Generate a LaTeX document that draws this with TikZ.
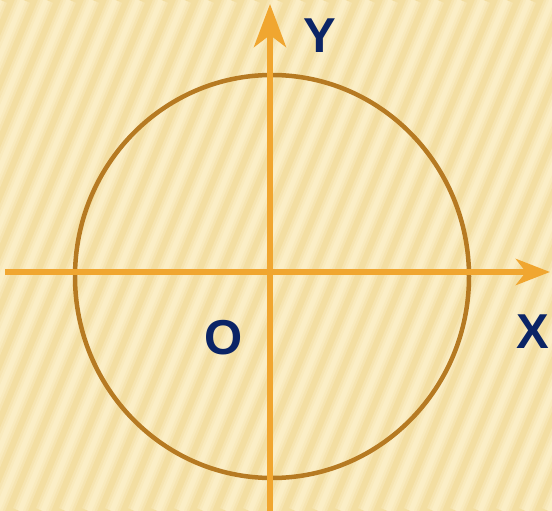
\documentclass[tikz,border=0pt]{standalone}
\usepackage{fontspec}
\setmainfont{Liberation Sans}
\usetikzlibrary{arrows.meta}
\definecolor{bgbase}{HTML}{F3DEA2}
\definecolor{bglight}{HTML}{FDF2CD}
\definecolor{circcol}{HTML}{B67A22}
\definecolor{axcol}{HTML}{F0A630}
\definecolor{labcol}{HTML}{0B2466}
\tikzset{
  axis/.style={draw=axcol, line width=6pt},
  lab/.style={text=labcol, font=\fontsize{49}{49}\selectfont\bfseries, inner sep=0pt},
}
\begin{document}
\begin{tikzpicture}[x=1pt, y=-1pt]
\useasboundingbox (0,0) rectangle (552,511);
\fill[bgbase] (0,0) rectangle (552,511);
\begin{scope}
\clip (0,0) rectangle (552,511);
\foreach \i in {-12,...,36} {
  \draw[bglight, line width=15pt, opacity=0.35] (\i*23-210,511) -- (\i*23,0);
  \draw[bglight, line width=10pt, opacity=0.45] (\i*23-210,511) -- (\i*23,0);
  \draw[bglight, line width=5pt, opacity=0.6] (\i*23-210,511) -- (\i*23,0);
}
\end{scope}
\draw[circcol, line width=4.5pt] (272,276.5) ellipse [x radius=197, y radius=201.5];
\coordinate (xs) at (5,272);
\coordinate (xe) at (550,272);
\coordinate (ys) at (270,511);
\coordinate (ye) at (270,4);
\draw[axis, -{Stealth[length=34pt, width=26pt, inset=10pt]}] (xs) -- (xe);
\draw[axis, -{Stealth[length=43pt, width=32pt, inset=12pt]}] (ys) -- (ye);
\node[lab] (Y) at (320,36) {Y};
\node[lab] (X) at (533,332) {X};
\node[lab] (O) at (224,338) {O};
\end{tikzpicture}
\end{document}
